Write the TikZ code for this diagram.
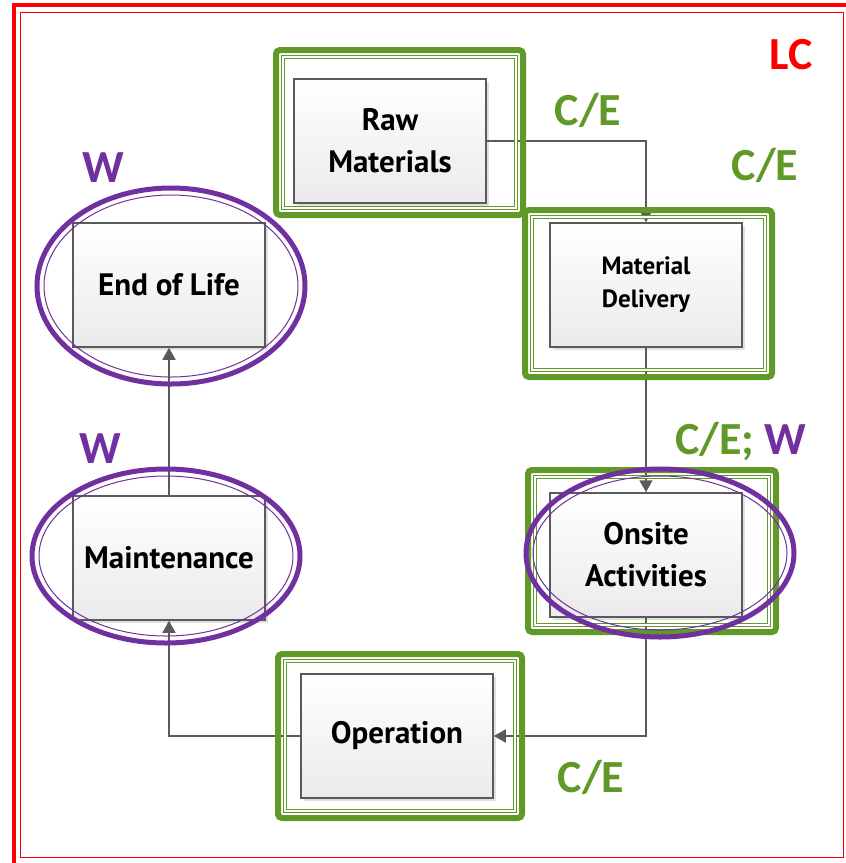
\documentclass[tikz,border=0pt]{standalone}
\usepackage{fontspec}
\setmainfont{PT Sans}
\newfontfamily\tagfont{Carlito}
\usetikzlibrary{arrows.meta,shadows}
\definecolor{lcred}{RGB}{255,0,0}
\definecolor{cegreen}{RGB}{96,153,40}
\definecolor{wpurple}{RGB}{112,48,160}
\definecolor{boxline}{RGB}{90,90,90}

\begin{document}
\begin{tikzpicture}[x=1pt,y=-1pt,style=thick]
\newcommand{\tsize}{\fontsize{31}{42}\selectfont\bfseries}
\newcommand{\ssize}{\fontsize{25}{33}\selectfont\bfseries}
\newcommand{\lsize}{\fontsize{46}{46}\selectfont\bfseries\tagfont}
\useasboundingbox (0,0) rectangle (846,863);
% life cycle frame
\draw[lcred,line width=4pt] (14,5) rectangle (852,870);
\draw[lcred,line width=1pt] (20,12) rectangle (843,857);
\begin{scope}[minimum width=192pt,minimum height=124pt]
\tikzstyle{every node}=[draw=boxline,line width=1.5pt,top color=white,bottom color=black!8,align=center,drop shadow={shadow xshift=3pt,shadow yshift=-3pt,fill=black!12,opacity=1}]
\node[font=\tsize] (RM) at (390,141) {Raw\\Materials};
\node[font=\ssize] (MD) at (646,285) {Material\\Delivery};
\node[font=\tsize] (OA) at (646,555) {Onsite\\Activities};
\node[font=\tsize] (OP) at (397,736) {Operation};
\node[font=\tsize] (MT) at (169,558) {Maintenance};
\node[font=\tsize] (EL) at (169,285) {End of Life};
\draw [boxline,line width=1.5pt,-{Triangle[length=12pt,width=13pt]}] (RM.east) -| (MD.north);
\draw [boxline,line width=1.5pt,-{Triangle[length=12pt,width=13pt]}] (MD) -- (OA);
\draw [boxline,line width=1.5pt,-{Triangle[length=12pt,width=13pt]}] (OA.south) |- (OP.east);
\draw [boxline,line width=1.5pt,-{Triangle[length=12pt,width=13pt]}] (OP.west) -| (MT.south);
\draw [boxline,line width=1.5pt,-{Triangle[length=12pt,width=13pt]}] (MT) -- (EL);
\end{scope}
% C/E frames
\draw[cegreen,line width=6pt,rounded corners=4pt] (276,50) rectangle (523,215);
\draw[cegreen,line width=0.8pt,double,double distance=1.6pt] (283,57) rectangle (516,208);
\draw[cegreen,line width=6pt,rounded corners=4pt] (525,210) rectangle (772,377);
\draw[cegreen,line width=0.8pt,double,double distance=1.6pt] (532,217) rectangle (765,370);
\draw[cegreen,line width=6pt,rounded corners=4pt] (528,470) rectangle (776,632);
\draw[cegreen,line width=0.8pt,double,double distance=1.6pt] (535,477) rectangle (769,625);
\draw[cegreen,line width=6pt,rounded corners=4pt] (278,654) rectangle (522,818);
\draw[cegreen,line width=0.8pt,double,double distance=1.6pt] (285,661) rectangle (515,811);
% W rings
\draw[wpurple,line width=5pt] (171,286) ellipse [x radius=134pt,y radius=98pt];
\draw[wpurple,line width=1pt] (171,286) ellipse [x radius=127pt,y radius=91pt];
\draw[wpurple,line width=5pt] (166,556) ellipse [x radius=134pt,y radius=87pt];
\draw[wpurple,line width=1pt] (166,556) ellipse [x radius=127pt,y radius=80pt];
\draw[wpurple,line width=5pt] (660,553) ellipse [x radius=134pt,y radius=84pt];
\draw[wpurple,line width=1pt] (660,553) ellipse [x radius=127pt,y radius=77pt];
% tags
\node[font=\lsize,text=lcred] (LC) at (791,55) {LC};
\node[font=\lsize,text=cegreen] (ce1) at (588,110) {C/E};
\node[font=\lsize,text=cegreen] (ce2) at (765,165) {C/E};
\node[font=\lsize,text=cegreen] (ce3) at (741,441) {C/E; \textcolor{wpurple}{W}};
\node[font=\lsize,text=cegreen] (ce4) at (591,777) {C/E};
\node[font=\lsize,text=wpurple] (w1) at (103,168) {W};
\node[font=\lsize,text=wpurple] (w2) at (100,449) {W};
\end{tikzpicture}
\end{document}
